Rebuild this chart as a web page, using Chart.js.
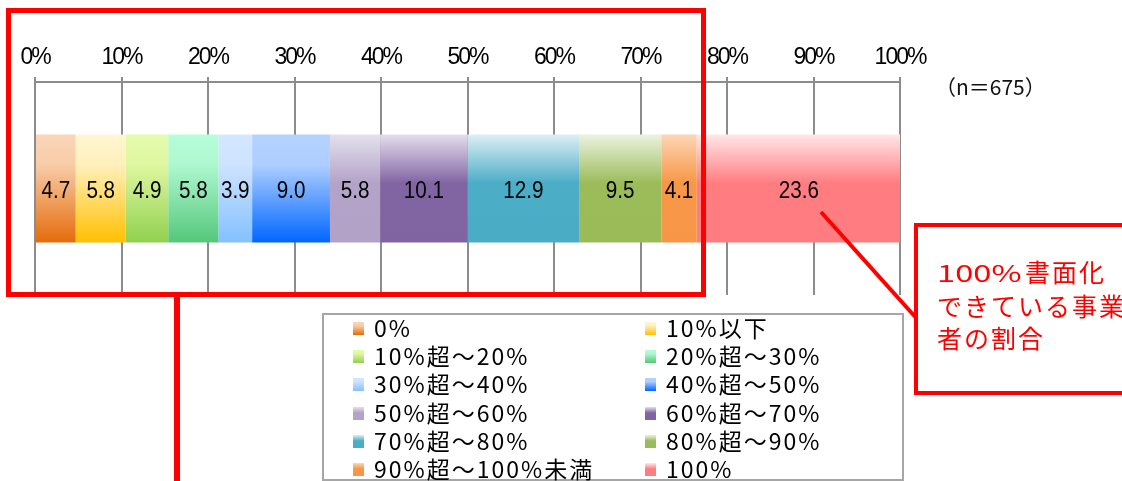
<!DOCTYPE html>
<html>
<head>
<meta charset="utf-8">
<script src="https://cdn.jsdelivr.net/npm/chart.js@4.4.1/dist/chart.umd.min.js"></script>
<style>
html,body{margin:0;padding:0;background:#fff;}
#wrap{position:relative;width:1122px;height:481px;overflow:hidden;background:#fff;}
#chart{position:absolute;left:0;top:0;}
#overlay{position:absolute;left:0;top:0;}
#nlabel{position:absolute;left:935px;top:76px;font:21px/21px "Noto Sans CJK JP",sans-serif;color:#111;white-space:nowrap;}
#legend{position:absolute;left:322px;top:313px;width:582px;height:168px;box-sizing:border-box;border:2px solid #A6A6A6;background:#fff;}
.lg-mark{position:absolute;width:11px;height:13px;}
.lg-text{position:absolute;font:23px/23px "Noto Sans CJK JP",sans-serif;letter-spacing:2px;color:#000;white-space:nowrap;}
#callout{position:absolute;left:914px;top:223px;width:230px;height:172px;box-sizing:border-box;border:4px solid #FF0000;background:#fff;}
#callout-text{position:absolute;left:937px;top:255px;font:25px/32.5px "Noto Sans CJK JP",sans-serif;letter-spacing:2px;color:#FF0000;white-space:nowrap;}
#callout-text .dg{display:inline-block;width:88px;letter-spacing:0;transform:scaleX(1.42);transform-origin:0 50%;font-size:23px;}
</style>
</head>
<body>
<div id="wrap">
  <canvas id="chart" width="1122" height="481"></canvas>
  <svg id="overlay" width="1122" height="481">
    <rect x="8.5" y="10.5" width="695" height="284" fill="none" stroke="#FF0000" stroke-width="5"/>
    <line x1="177" y1="294" x2="177" y2="485" stroke="#FF0000" stroke-width="6"/>
    <line x1="821" y1="212" x2="918" y2="320" stroke="#FF0000" stroke-width="4"/>
  </svg>
  <div id="nlabel">（n＝675）</div>
  <div id="legend"></div>
  <div id="callout"></div>
  <div id="callout-text"><span class="dg">100%</span>書面化<br>できている事業<br>者の割合</div>
</div>
<script>
// ---- data ----
const categories = [''];
const seriesLabels = ['0%','10%以下','10%超～20%','20%超～30%','30%超～40%','40%超～50%','50%超～60%','60%超～70%','70%超～80%','80%超～90%','90%超～100%未満','100%'];
const seriesValues = [4.7, 5.8, 4.9, 5.8, 3.9, 9.0, 5.8, 10.1, 12.9, 9.5, 4.1, 23.6];
const tickLabels = ['0%','10%','20%','30%','40%','50%','60%','70%','80%','90%','100%'];

// ---- styles ----
const gradientStops = [
  [[0,'#FAD6B8'],[0.28,'#F8CCA8'],[1,'#E46C0A']],
  [[0,'#FFF6D2'],[0.28,'#FFF0BB'],[1,'#FFC000']],
  [[0,'#E4FBAC'],[0.28,'#DFF7A0'],[1,'#92D050']],
  [[0,'#B6FDDA'],[0.28,'#AEF8CF'],[1,'#55C77B']],
  [[0,'#D3E7FF'],[0.28,'#CDE3FF'],[1,'#84C0FF']],
  [[0,'#B4D2FF'],[0.28,'#AECEFF'],[1,'#0066FF']],
  [[0,'#E4E0EC'],[0.45,'#B3A3C8'],[1,'#B2A2C7']],
  [[0,'#E6DDED'],[0.45,'#8165A3'],[1,'#8064A2']],
  [[0,'#DCEFF4'],[0.45,'#4CADC7'],[1,'#4BACC6']],
  [[0,'#ECF2DF'],[0.45,'#9CBC5A'],[1,'#9BBB59']],
  [[0,'#FCD6B6'],[0.45,'#F79747'],[1,'#F79646']],
  [[0,'#FFE7E9'],[0.45,'#FF7D81'],[1,'#FF7C80']]
];
const BAR_PCT = 0.507;
const NUM_FONT = '"Liberation Sans",Arial,sans-serif';

function makeGradient(ctx, stops, y0, y1){
  const g = ctx.createLinearGradient(0, y0, 0, y1);
  stops.forEach(s => g.addColorStop(s[0], s[1]));
  return g;
}

function barFill(context){
  const chart = context.chart;
  const area = chart.chartArea;
  const stops = gradientStops[context.datasetIndex];
  if (!area) return stops[stops.length-1][1];
  const h = (area.bottom - area.top) * BAR_PCT;
  const mid = (area.top + area.bottom) / 2;
  return makeGradient(chart.ctx, stops, mid - h/2, mid + h/2);
}

// tighter letter spacing for axis tick labels (condensed look)
const tightTicksPlugin = {
  id: 'tightTicks',
  beforeDraw(chart){ if ('letterSpacing' in chart.ctx) chart.ctx.letterSpacing = '-2px'; },
  beforeDatasetsDraw(chart){ if ('letterSpacing' in chart.ctx) chart.ctx.letterSpacing = '0px'; }
};

const valueLabelPlugin = {
  id: 'valueLabels',
  afterDatasetsDraw(chart){
    const ctx = chart.ctx;
    chart.data.datasets.forEach((ds, i) => {
      const meta = chart.getDatasetMeta(i);
      meta.data.forEach((bar, j) => {
        const x = (bar.x + bar.base) / 2;
        ctx.save();
        ctx.translate(x, bar.y + 3);
        ctx.scale(0.86, 1);
        ctx.font = '24px ' + NUM_FONT;
        ctx.fillStyle = '#000';
        ctx.textAlign = 'center';
        ctx.textBaseline = 'middle';
        ctx.fillText(ds.data[j].toFixed(1), 0, 0);
        ctx.restore();
      });
    });
  }
};

const datasets = seriesLabels.map((lab, i) => ({
  label: lab,
  data: [seriesValues[i]],
  backgroundColor: barFill,
  borderWidth: 0,
  barPercentage: BAR_PCT,
  categoryPercentage: 1.0
}));

new Chart(document.getElementById('chart'), {
  type: 'bar',
  data: { labels: categories, datasets },
  plugins: [tightTicksPlugin, valueLabelPlugin],
  options: {
    indexAxis: 'y',
    responsive: false,
    animation: false,
    devicePixelRatio: 1,
    layout: { padding: { left: 35, right: 222, top: 0, bottom: 186 } },
    plugins: { legend: { display: false }, tooltip: { enabled: false } },
    scales: {
      x: {
        position: 'top',
        stacked: true,
        min: 0, max: 100,
        ticks: {
          stepSize: 10,
          padding: 6,
          color: '#000',
          font: { family: NUM_FONT, size: 23 },
          callback: (v, i) => tickLabels[i]
        },
        grid: { color: '#8C8C8C', lineWidth: 2, tickLength: 5, tickColor: '#8C8C8C', drawTicks: true },
        border: { color: '#8C8C8C', width: 2 },
        afterFit: (scale) => { scale.height = 82; }
      },
      y: { stacked: true, display: false }
    }
  }
});

// ---- legend (HTML, built from the same arrays) ----
const wrap = document.getElementById('wrap');
seriesLabels.forEach((lab, i) => {
  const row = Math.floor(i / 2), col = i % 2;
  const cy = 329 + row * 28.2;
  const mark = document.createElement('div');
  mark.className = 'lg-mark';
  mark.style.left = (col ? 645 : 353) + 'px';
  mark.style.top = (cy - 7) + 'px';
  const st = gradientStops[i].map(s => s[1] + ' ' + (s[0]*100) + '%').join(',');
  mark.style.background = 'linear-gradient(to bottom,' + st + ')';
  const txt = document.createElement('div');
  txt.className = 'lg-text';
  txt.style.left = (col ? 666 : 374) + 'px';
  txt.style.top = (cy - 13) + 'px';
  txt.textContent = lab;
  wrap.appendChild(mark);
  wrap.appendChild(txt);
});
</script>
</body>
</html>
